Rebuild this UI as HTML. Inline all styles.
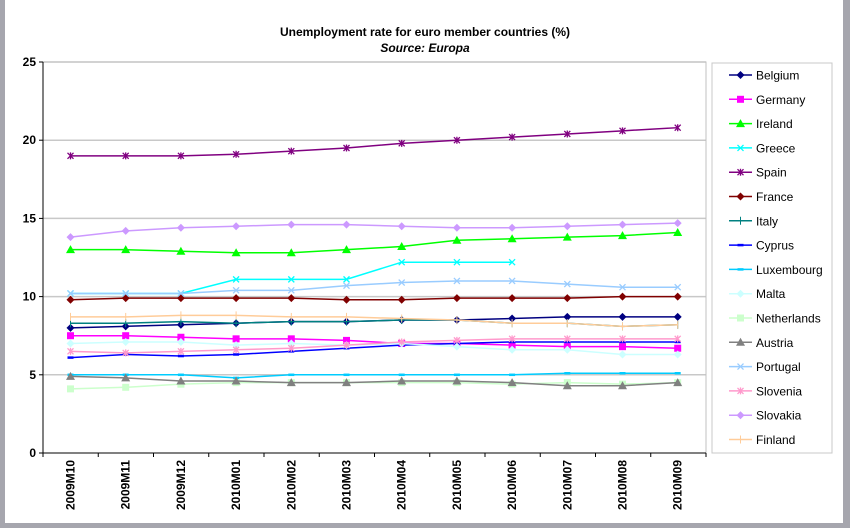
<!DOCTYPE html>
<html><head><meta charset="utf-8"><style>
body{margin:0;background:#fff;}
svg{display:block;font-family:"Liberation Sans",Arial,sans-serif;}
</style></head><body>
<svg id="s" width="850" height="528" xmlns="http://www.w3.org/2000/svg">
<rect x="0" y="0" width="850" height="528" fill="#a6a6ae"/>
<rect x="5" y="0" width="838" height="523" fill="#fff"/>
<text x="425" y="36" text-anchor="middle" font-size="12" font-weight="bold">Unemployment rate for euro member countries (%)</text>
<text x="425" y="52" text-anchor="middle" font-size="12" font-weight="bold" font-style="italic">Source: Europa</text>
<g id="grid"></g>
<rect x="43" y="62" width="663" height="391" fill="none" stroke="#c0c0c0"/>
<line x1="43" y1="62" x2="43" y2="453" stroke="#000"/>
<line x1="43" y1="453" x2="706" y2="453" stroke="#000"/>
<g id="ax" font-size="12" font-weight="bold"></g>
<g id="ser"></g>
<rect x="712" y="63" width="120" height="390" fill="#fff" stroke="#c8c8c8"/>
<g id="leg" font-size="12"></g>
</svg>
<script>
const NS="http://www.w3.org/2000/svg";
function el(p,t,a,txt){const e=document.createElementNS(NS,t);for(const k in a)e.setAttribute(k,a[k]);if(txt!=null)e.textContent=txt;document.getElementById(p).appendChild(e);return e;}
const Y=v=>453-v*15.64, X=i=>70.5+i*55.2;
for(let v=5;v<=25;v+=5){el('grid','line',{x1:43,x2:706,y1:Y(v),y2:Y(v),stroke:'#c8c8c8','stroke-width':1.5});}
for(let v=0;v<=25;v+=5){el('ax','text',{x:36,y:Y(v)+4,'text-anchor':'end'},v);el('ax','line',{x1:39,x2:43,y1:Y(v),y2:Y(v),stroke:'#000'});}
const lab=["2009M10","2009M11","2009M12","2010M01","2010M02","2010M03","2010M04","2010M05","2010M06","2010M07","2010M08","2010M09"];
for(let i=0;i<=12;i++)el('ax','line',{x1:43+i*55.25,x2:43+i*55.25,y1:453,y2:457,stroke:'#000'});
lab.forEach((l,i)=>el('ax','text',{transform:`translate(${X(i)+4},460) rotate(-90)`,'text-anchor':'end'},l));
const S=[
["Belgium","#000080","d",[8.0,8.1,8.2,8.3,8.4,8.4,8.5,8.5,8.6,8.7,8.7,8.7]],
["Germany","#ff00ff","s",[7.5,7.5,7.4,7.3,7.3,7.2,7.0,7.0,6.9,6.8,6.8,6.7]],
["Ireland","#00ff00","t",[13.0,13.0,12.9,12.8,12.8,13.0,13.2,13.6,13.7,13.8,13.9,14.1]],
["Greece","#00ffff","x",[10.2,10.2,10.2,11.1,11.1,11.1,12.2,12.2,12.2]],
["Spain","#800080","*",[19.0,19.0,19.0,19.1,19.3,19.5,19.8,20.0,20.2,20.4,20.6,20.8]],
["France","#800000","d",[9.8,9.9,9.9,9.9,9.9,9.8,9.8,9.9,9.9,9.9,10.0,10.0]],
["Italy","#008080","+",[8.3,8.3,8.4,8.3,8.4,8.4,8.5,8.5,8.3,8.3,8.1,8.2]],
["Cyprus","#0000ff","-",[6.1,6.3,6.2,6.3,6.5,6.7,6.9,7.0,7.1,7.1,7.1,7.1]],
["Luxembourg","#00ccff","-",[5.0,5.0,5.0,4.8,5.0,5.0,5.0,5.0,5.0,5.1,5.1,5.1]],
["Malta","#ccffff","d",[7.0,7.1,7.1,6.9,7.0,6.9,7.0,6.8,6.6,6.6,6.3,6.3]],
["Netherlands","#ccffcc","s",[4.1,4.2,4.4,4.5,4.5,4.5,4.5,4.5,4.4,4.5,4.4,4.5]],
["Austria","#808080","t",[4.9,4.8,4.6,4.6,4.5,4.5,4.6,4.6,4.5,4.3,4.3,4.5]],
["Portugal","#99ccff","x",[10.2,10.2,10.2,10.4,10.4,10.7,10.9,11.0,11.0,10.8,10.6,10.6]],
["Slovenia","#ff99cc","*",[6.5,6.4,6.5,6.6,6.7,6.9,7.1,7.2,7.3,7.3,7.3,7.3]],
["Slovakia","#cc99ff","d",[13.8,14.2,14.4,14.5,14.6,14.6,14.5,14.4,14.4,14.5,14.6,14.7]],
["Finland","#ffcc99","+",[8.7,8.7,8.8,8.8,8.7,8.7,8.6,8.5,8.3,8.3,8.1,8.2]]];
function mk(g,m,x,y,c){
 if(m=="d")el(g,'polygon',{points:`${x},${y-4} ${x+4},${y} ${x},${y+4} ${x-4},${y}`,fill:c});
 else if(m=="s")el(g,'rect',{x:x-3.5,y:y-3.5,width:7,height:7,fill:c});
 else if(m=="t")el(g,'polygon',{points:`${x},${y-4.5} ${x+4.5},${y+3.5} ${x-4.5},${y+3.5}`,fill:c});
 else if(m=="x"){el(g,'path',{d:`M${x-3},${y-3}L${x+3},${y+3}M${x+3},${y-3}L${x-3},${y+3}`,stroke:c,'stroke-width':1.3});}
 else if(m=="*"){el(g,'path',{d:`M${x-3},${y-3}L${x+3},${y+3}M${x+3},${y-3}L${x-3},${y+3}M${x},${y-3.5}L${x},${y+3.5}`,stroke:c,'stroke-width':1.3});}
 else if(m=="+"){el(g,'path',{d:`M${x},${y-4}L${x},${y+4}`,stroke:c,'stroke-width':1});}
 else if(m=="-"){el(g,'path',{d:`M${x-3},${y}L${x+3},${y}`,stroke:c,'stroke-width':2.5});}
}
S.forEach((s,k)=>{
 const pts=s[3].map((v,i)=>X(i)+","+Y(v)).join(" ");
 el('ser','polyline',{points:pts,fill:'none',stroke:s[1],'stroke-width':1.5});
 s[3].forEach((v,i)=>mk('ser',s[2],X(i),Y(v),s[1]));
 const ly=75+k*24.3;
 el('leg','line',{x1:729,x2:752,y1:ly,y2:ly,stroke:s[1],'stroke-width':1.5});
 mk('leg',s[2],740.5,ly,s[1]);
 el('leg','text',{x:756,y:ly+4.5},s[0]);
});
</script>
</body></html>
